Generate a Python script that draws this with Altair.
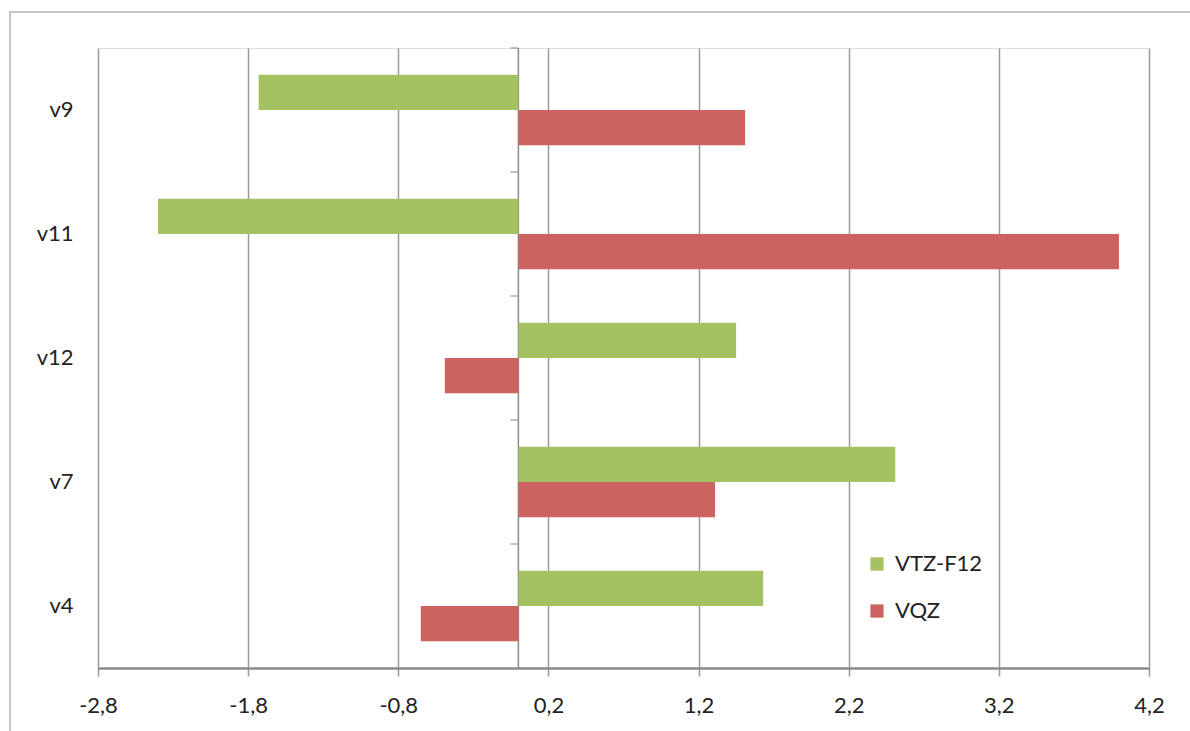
import altair as alt
import pandas as pd

# Vibrational modes (top to bottom) and the two basis-set series
CATEGORIES = ["v9", "v11", "v12", "v7", "v4"]
SERIES = ["VTZ-F12", "VQZ"]
VTZ_F12 = [-1.73, -2.40, 1.45, 2.51, 1.63]
VQZ = [1.51, 4.00, -0.49, 1.31, -0.65]
X_TICKS = [-2.8, -1.8, -0.8, 0.2, 1.2, 2.2, 3.2, 4.2]
COLORS = ["#A5C262", "#CD6360"]

rows = []
for cat, a, b in zip(CATEGORIES, VTZ_F12, VQZ):
    rows.append({"mode": cat, "series": SERIES[0], "value": a})
    rows.append({"mode": cat, "series": SERIES[1], "value": b})
df = pd.DataFrame(rows)

W, H = 1051, 620
X_MIN, X_MAX = X_TICKS[0], X_TICKS[-1]
PAD_IN, PAD_OUT = 0.43, 0.215
STEP = H / (len(CATEGORIES) - PAD_IN + 2 * PAD_OUT)
FONT = "Lato"
FONT_SIZE = 22
GRID = "#9a9a9a"
AXIS_GREY = "#8c8c8c"
TEXT = "#222222"

x_scale = alt.Scale(domain=[X_MIN, X_MAX], nice=False, zero=False)
y_scale = alt.Scale(domain=CATEGORIES, paddingInner=PAD_IN, paddingOuter=PAD_OUT)
off_scale = alt.Scale(domain=SERIES, paddingInner=0, paddingOuter=0)

comma_fmt = "replace(replace(format(datum.value, '.1f'), '.', ','), '\u2212', '-')"

x_axis = alt.Axis(
    values=X_TICKS, labelExpr=comma_fmt, title=None,
    grid=True, gridColor=GRID, gridWidth=1.5,
    domainColor=AXIS_GREY, domainWidth=2.5,
    tickColor=GRID, tickSize=8, tickWidth=1.5,
    labelFont=FONT, labelFontSize=FONT_SIZE, labelColor=TEXT,
    labelPadding=19, labelFlush=False,
)
y_axis = alt.Axis(
    title=None, domain=False, ticks=False, grid=False,
    labelFont=FONT, labelFontSize=FONT_SIZE, labelColor=TEXT, labelPadding=25,
)

legend = alt.Legend(
    orient="none", legendX=768, legendY=505, title=None,
    symbolType="square", symbolSize=175, symbolStrokeWidth=0,
    labelFont=FONT, labelFontSize=FONT_SIZE, labelColor=TEXT,
    rowPadding=25, labelOffset=7, padding=0,
)

frame = alt.Chart(pd.DataFrame({"k": [0]})).mark_rect(
    filled=False, stroke="#c4c4c4", strokeWidth=2
).encode(
    x=alt.value(-88), x2=alt.value(1200), y=alt.value(-36), y2=alt.value(720)
)

bars = alt.Chart(df).mark_bar().encode(
    x=alt.X("value:Q", scale=x_scale, axis=x_axis),
    y=alt.Y("mode:N", scale=y_scale, axis=y_axis, sort=CATEGORIES),
    yOffset=alt.YOffset("series:N", sort=SERIES, scale=off_scale),
    color=alt.Color("series:N", scale=alt.Scale(domain=SERIES, range=COLORS),
                    legend=legend, sort=SERIES),
)

# category axis line through x = 0
zero_line = alt.Chart(pd.DataFrame({"k": [0]})).mark_rule(
    color=AXIS_GREY, strokeWidth=1.5
).encode(x=alt.datum(0))

# small ticks on the category boundaries, pointing left from the zero line
cat_df = pd.DataFrame({"mode": CATEGORIES, "zero": [0.0] * len(CATEGORIES)})
boundary_ticks = alt.Chart(cat_df).mark_tick(
    orient="horizontal", size=8, thickness=1.5, color=AXIS_GREY,
    xOffset=-4, yOffset=-PAD_IN / 2 * STEP,
).encode(
    x=alt.X("zero:Q"),
    y=alt.Y("mode:N", sort=CATEGORIES, bandPosition=0),
)

chart = alt.layer(frame, zero_line, bars, boundary_ticks).properties(
    width=W, height=H,
    autosize=alt.AutoSizeParams(type="none"),
    padding={"left": 98, "top": 48, "right": 41, "bottom": 63},
).configure_view(
    stroke=GRID, strokeWidth=1.5
).configure(background="white")

chart.save("out.html", embed_options={"renderer": "svg", "actions": False})
